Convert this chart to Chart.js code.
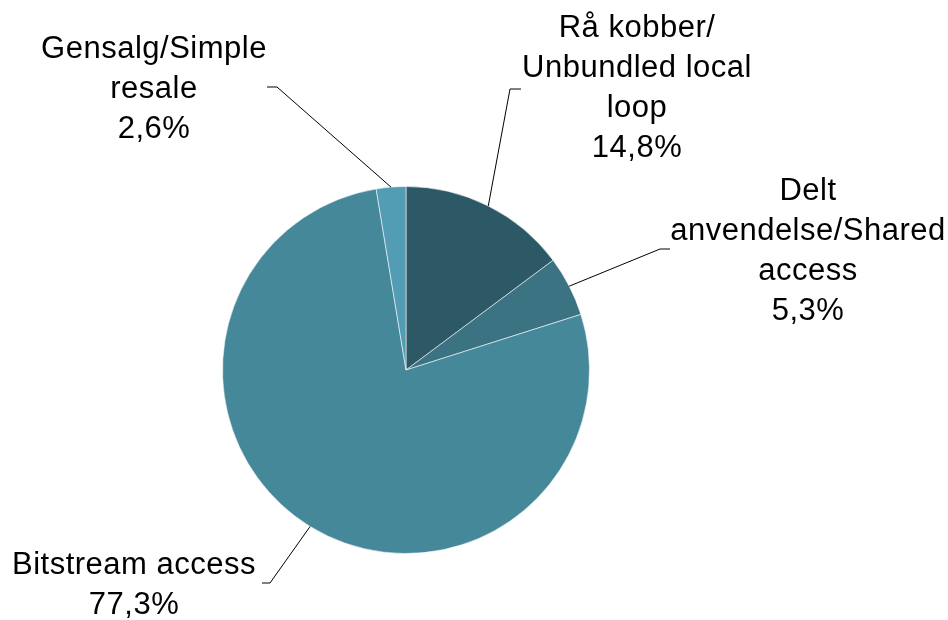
<!DOCTYPE html>
<html>
<head>
<meta charset="utf-8">
<script src="https://cdn.jsdelivr.net/npm/chart.js@4"></script>
<style>
  html, body { margin: 0; padding: 0; background: #fff; }
  #wrap { width: 948px; height: 620px; }
</style>
</head>
<body>
<div id="wrap"><canvas id="grafikk" width="948" height="620"></canvas></div>
<script>
// Andeler av grossistprodukter (prosent)
const kategorier = [
  ['Rå kobber/', 'Unbundled local', 'loop'],
  ['Delt', 'anvendelse/Shared', 'access'],
  ['Bitstream access'],
  ['Gensalg/Simple', 'resale']
];
const andeler = [14.8, 5.3, 77.3, 2.6];
const farger = ['#2d5866', '#3c7382', '#458899', '#529db4'];

// Plassering av etiketter: midtpunkt x, første grunnlinje y, knekkpunkt og ende for linjen
const etikettPlass = [
  { x: 637, y: 37,  knekk: [510, 89],  ende: [521, 89] },
  { x: 808, y: 200, knekk: [660, 249], ende: [670, 249] },
  { x: 134, y: 574, knekk: [270, 583], ende: [262, 583] },
  { x: 154, y: 58,  knekk: [277, 87],  ende: [267, 87] }
];

const formatProsent = v => v.toFixed(1).replace('.', ',') + '%';

// Tegner etiketter med ledelinjer utenfor sektorene
const etiketter = {
  id: 'etiketter',
  afterDraw(chart) {
    const ctx = chart.ctx;
    const meta = chart.getDatasetMeta(0);
    ctx.save();
    meta.data.forEach((arc, i) => {
      const p = etikettPlass[i];
      const midt = (arc.startAngle + arc.endAngle) / 2;
      const sx = arc.x + Math.cos(midt) * arc.outerRadius;
      const sy = arc.y + Math.sin(midt) * arc.outerRadius;

      ctx.strokeStyle = '#000';
      ctx.lineWidth = 1;
      ctx.beginPath();
      ctx.moveTo(sx, sy);
      ctx.lineTo(p.knekk[0], p.knekk[1]);
      ctx.lineTo(p.ende[0], p.ende[1]);
      ctx.stroke();

      const linjer = chart.data.labels[i].concat([formatProsent(andeler[i])]);
      ctx.fillStyle = '#000';
      ctx.font = '31px "Liberation Sans", Arial, sans-serif';
      ctx.letterSpacing = '0.5px';
      ctx.textAlign = 'center';
      ctx.textBaseline = 'alphabetic';
      linjer.forEach((t, j) => ctx.fillText(t, p.x, p.y + j * 40));
    });
    ctx.restore();
  }
};

new Chart(document.getElementById('grafikk'), {
  type: 'pie',
  data: {
    labels: kategorier,
    datasets: [{
      data: andeler,
      backgroundColor: farger,
      borderColor: 'rgba(255,255,255,0.55)',
      borderWidth: 1
    }]
  },
  options: {
    responsive: false,
    animation: false,
    layout: { padding: { left: 222, right: 358, top: 186, bottom: 66 } },
    plugins: {
      legend: { display: false },
      tooltip: { enabled: false }
    }
  },
  plugins: [etiketter]
});
</script>
</body>
</html>
